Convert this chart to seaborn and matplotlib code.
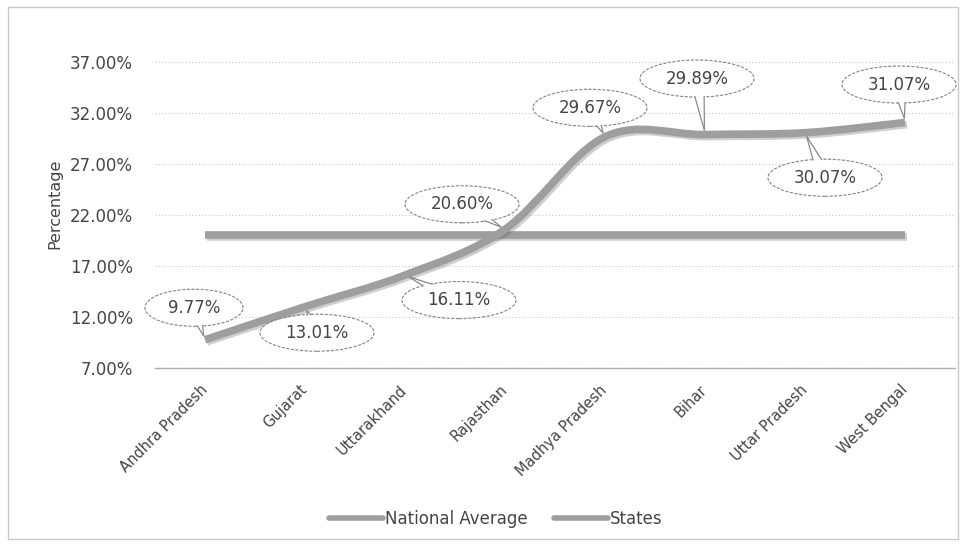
import matplotlib
matplotlib.use("Agg")
import matplotlib.pyplot as plt
import matplotlib.patheffects as pe
from matplotlib.path import Path
from matplotlib.patches import PathPatch, Rectangle, Ellipse, Polygon
from matplotlib.lines import Line2D
from matplotlib.transforms import Affine2D, ScaledTranslation
import seaborn as sns
import pandas as pd
import numpy as np

# ---- data ----
categories = ["Andhra Pradesh", "Gujarat", "Uttarakhand", "Rajasthan",
              "Madhya Pradesh", "Bihar", "Uttar Pradesh", "West Bengal"]
states = [9.77, 13.01, 16.11, 20.60, 29.67, 29.89, 30.07, 31.07]
national_average = [20.0, 20.0, 20.0, 20.0, 20.0, 20.0, 20.0, 20.0]
y_ticks = [7, 12, 17, 22, 27, 32, 37]

# layout only: callout centre offsets (pixels) from each data point
callout_offsets = [(-11, 32), (12, -26), (54, -25), (-43, 25),
                   (-15, 29), (-8, 56), (20, -45), (-6, 38)]

sns.set_theme(style="white")
plt.rcParams["font.family"] = ["DejaVu Sans"]
TXT = "#454545"
LINE = "#9e9e9e"
EDGE = "#8a8a8a"

fig = plt.figure(figsize=(9.65, 5.45), dpi=100)
ax = fig.add_axes([155 / 965, 177 / 545, 800 / 965, 328 / 545])

df = pd.DataFrame({"State": categories,
                   "National Average": national_average,
                   "States": states})

shadow = [pe.SimpleLineShadow(offset=(1.5, -1.5), shadow_color="#606060", alpha=0.3),
          pe.Normal()]

sns.lineplot(data=df, x="State", y="National Average", ax=ax, sort=False,
             color=LINE, linewidth=5.5, solid_capstyle="butt",
             path_effects=shadow, legend=False, zorder=3)

# smoothed states line (Bezier through the data points)
xs = np.arange(len(states), dtype=float)
ys = np.asarray(states, dtype=float)
pts = np.column_stack([xs, ys])
verts = [tuple(pts[0])]
codes = [Path.MOVETO]
n = len(pts)
for i in range(n - 1):
    p0 = pts[i - 1] if i > 0 else pts[i]
    p1 = pts[i]
    p2 = pts[i + 1]
    p3 = pts[i + 2] if i + 2 < n else pts[i + 1]
    c1 = p1 + (p2 - p0) / 6.0
    c2 = p2 - (p3 - p1) / 6.0
    verts += [tuple(c1), tuple(c2), tuple(p2)]
    codes += [Path.CURVE4, Path.CURVE4, Path.CURVE4]
patch = PathPatch(Path(verts, codes), facecolor="none", edgecolor=LINE,
                  linewidth=5.5, capstyle="butt", zorder=4)
patch.set_path_effects(shadow)
ax.add_patch(patch)

ax.set_xlim(-0.5, len(categories) - 0.5)
ax.set_ylim(7, 39.16)
ax.set_yticks(y_ticks)
ax.set_yticklabels([f"{v:.2f}%" for v in y_ticks], fontsize=12, color=TXT)
ax.set_xticks(range(len(categories)))
ax.set_xticklabels(categories, rotation=45, ha="right", va="center",
                   rotation_mode="anchor", fontsize=10.5, color=TXT)
ax.tick_params(axis="x", pad=14, length=0)
ax.tick_params(axis="y", pad=16, length=0)
ax.set_xlabel("")
ax.set_ylabel("Percentage", fontsize=11.5, color=TXT, labelpad=5)

ax.grid(axis="y", linestyle=(0, (1, 2)), color="#c8c8c8", linewidth=0.8)
for s in ["top", "right", "left"]:
    ax.spines[s].set_visible(False)
ax.spines["bottom"].set_color("#b0b0b0")
ax.spines["bottom"].set_linewidth(1.0)

# callouts (ellipse speech bubbles)
for i, (v, (ox, oy)) in enumerate(zip(states, callout_offsets)):
    label = f"{v:.2f}%"
    trans = ScaledTranslation(i, v, ax.transData)
    w = 16 * len(label) + 18
    h = 37
    # outline
    ax.add_patch(Ellipse((ox, oy), w, h, facecolor="none", edgecolor=EDGE,
                         linewidth=0.9, linestyle=(0, (2.5, 1.2)),
                         transform=Affine2D() + trans, zorder=6, clip_on=False))
    # tail
    d = np.array([ox, oy], dtype=float)
    L = np.hypot(*d)
    u = d / L
    nrm = np.array([-u[1], u[0]])
    tip = u * 4
    tail = [tuple(tip), tuple(d + nrm * 7), tuple(d - nrm * 7)]
    ax.add_patch(Polygon(tail, closed=True, facecolor="white", edgecolor=EDGE,
                         linewidth=0.9, transform=Affine2D() + trans,
                         zorder=6.5, clip_on=False))
    # fill
    ax.add_patch(Ellipse((ox, oy), w - 1.8, h - 1.8, facecolor="white",
                         edgecolor="none", transform=Affine2D() + trans,
                         zorder=7, clip_on=False))
    ax.text(ox, oy, label, ha="center", va="center", fontsize=12, color=TXT,
            transform=Affine2D() + trans, zorder=8, clip_on=False)

handles = [Line2D([], [], color=LINE, linewidth=4, label="National Average"),
           Line2D([], [], color=LINE, linewidth=4, label="States")]
fig.legend(handles=handles, loc="center", bbox_to_anchor=(496 / 965, 26 / 545), ncol=2,
           frameon=False, fontsize=12, handlelength=3.2, handletextpad=0.15,
           columnspacing=1.6, labelcolor=TXT)

fig.patches.append(Rectangle((8 / 965, 6 / 545), 950 / 965, 532 / 545,
                             transform=fig.transFigure, fill=False,
                             edgecolor="#c8c8c8", linewidth=1.0))

fig.savefig("out.png", dpi=100)
